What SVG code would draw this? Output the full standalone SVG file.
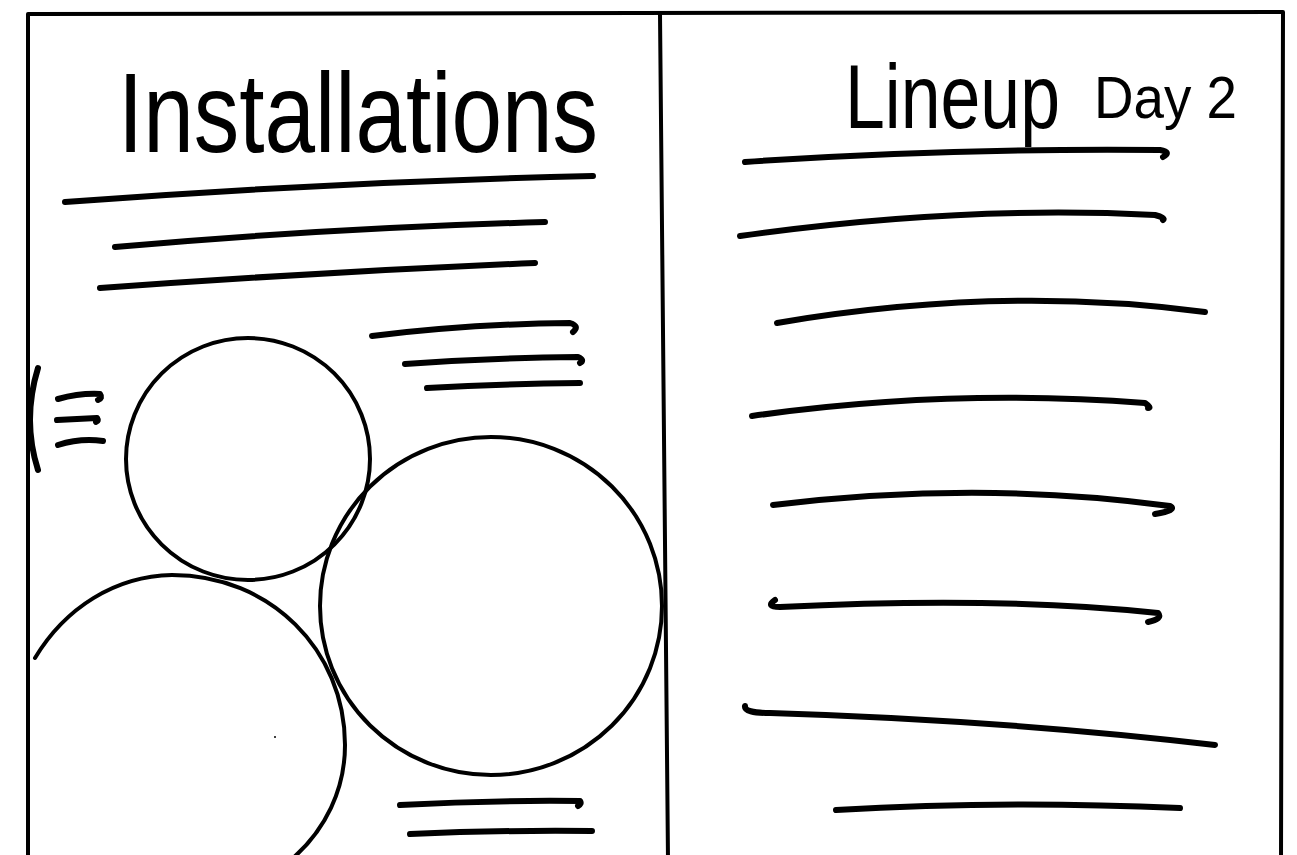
<svg xmlns="http://www.w3.org/2000/svg" width="1297" height="855" viewBox="0 0 1297 855">
<style>
.frame{fill:none;stroke:#000;stroke-width:4;stroke-linecap:round;stroke-linejoin:round}
.circ{fill:none;stroke:#000;stroke-width:4;stroke-linecap:round}
.ln{fill:none;stroke:#000;stroke-width:6;stroke-linecap:round;stroke-linejoin:round}
.title{font-family:"Liberation Sans","DejaVu Sans",sans-serif;fill:#000;font-weight:normal}
</style>
<rect width="1297" height="855" fill="#fff"/>
<g id="frame">
<path class="frame" d="M28 860 L28 14 L1283 12 L1281 860"/>
<path class="frame" d="M660 14 L668 860"/>
</g>
<g id="installations">
<text class="title" transform="translate(118 152) scale(1 1.25)" font-size="90" textLength="480" lengthAdjust="spacingAndGlyphs">Installations</text>
<path class="ln" d="M65 202 Q330 182 593 176"/>
<path class="ln" d="M115 247 Q330 228 545 222"/>
<path class="ln" d="M100 288 Q320 272 535 263"/>
<path class="ln" d="M372 336 Q470 324 570 323 Q580 326 573 332"/>
<path class="ln" d="M405 364 Q490 358 578 357 Q585 360 580 363"/>
<path class="ln" d="M427 388 Q500 384 580 383"/>
<path class="ln" d="M38 368 Q22 420 38 470"/>
<path class="ln" d="M58 399 Q80 393 100 394 Q103 398 98 400"/>
<path class="ln" d="M57 420 L97 418 Q99 421 96 422"/>
<path class="ln" d="M58 445 Q80 438 103 441"/>
<path class="ln" d="M400 805 Q490 800 580 801 Q582 804 578 806"/>
<path class="ln" d="M410 834 Q500 830 592 831"/>
</g>
<g id="circles">
<ellipse class="circ" cx="248" cy="459" rx="122" ry="121"/>
<ellipse class="circ" cx="491" cy="606" rx="171" ry="169"/>
<path class="circ" d="M35 658 C65 608 115 576 172 575 C270 575 345 650 345 745 C345 790 325 830 293 858"/>
<circle cx="275" cy="737" r="1" fill="#000"/>
</g>
<g id="lineup">
<text class="title" transform="translate(845 128) scale(1 1.3)" font-size="70" textLength="215" lengthAdjust="spacingAndGlyphs">Lineup</text>
<text class="title" transform="translate(1094 118) scale(1 1.1)" font-size="54" textLength="143" lengthAdjust="spacingAndGlyphs">Day 2</text>
<path class="ln" d="M745 162 Q950 148 1160 150 Q1172 152 1163 157"/>
<path class="ln" d="M740 236 Q960 205 1155 215 Q1166 218 1163 220"/>
<path class="ln" d="M777 323 Q1000 285 1205 312"/>
<path class="ln" d="M752 416 Q950 388 1145 403 Q1152 408 1148 408"/>
<path class="ln" d="M773 505 Q980 480 1170 506 Q1178 510 1155 514"/>
<path class="ln" d="M775 600 Q765 607 780 607 Q1000 596 1158 613 Q1163 619 1148 622"/>
<path class="ln" d="M745 706 Q744 713 770 713 Q1000 720 1215 745"/>
<path class="ln" d="M836 810 Q1000 800 1180 808"/>
</g>
</svg>
